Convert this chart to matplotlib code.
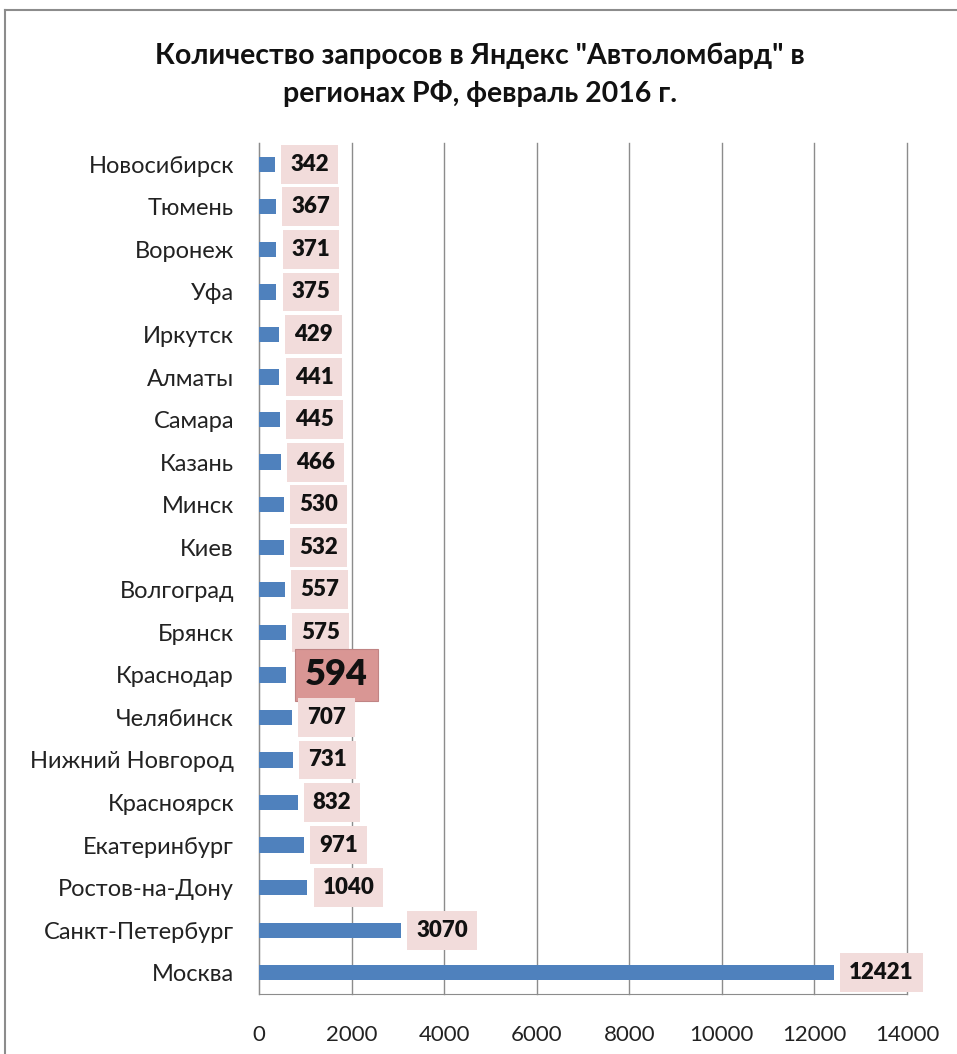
import matplotlib
matplotlib.use("Agg")
import matplotlib.pyplot as plt
from matplotlib.lines import Line2D

cities = ["Новосибирск", "Тюмень", "Воронеж", "Уфа", "Иркутск", "Алматы", "Самара",
          "Казань", "Минск", "Киев", "Волгоград", "Брянск", "Краснодар", "Челябинск",
          "Нижний Новгород", "Красноярск", "Екатеринбург", "Ростов-на-Дону",
          "Санкт-Петербург", "Москва"]
values = [342, 367, 371, 375, 429, 441, 445, 466, 530, 532, 557, 575, 594, 707,
          731, 832, 971, 1040, 3070, 12421]
highlight = "Краснодар"
xticks = [0, 2000, 4000, 6000, 8000, 10000, 12000, 14000]
title = 'Количество запросов в Яндекс "Автоломбард" в\nрегионах РФ, февраль 2016 г.'

plt.rcParams['font.family'] = ['Lato', 'DejaVu Sans']

fig = plt.figure(figsize=(9.57, 10.54), dpi=100)
ax = fig.add_axes([259/957, 1 - 994/1054, (907-259)/957, (994-143)/1054])

ypos = list(range(len(cities)))
ax.barh(ypos, values, height=0.36, color="#4f81bd", zorder=3)
ax.set_ylim(len(cities) - 0.5, -0.5)
ax.set_xlim(0, 14000)
ax.set_xticks(xticks)
ax.set_xticklabels([str(t) for t in xticks], fontsize=16, color="#222222")
ax.set_yticks(ypos)
ax.set_yticklabels(cities, fontsize=17, color="#222222")
ax.tick_params(axis='y', length=0, pad=18)
ax.tick_params(axis='x', length=0, pad=22)
ax.grid(axis='x', color="#8c8c8c", linewidth=1, zorder=0)
for gl in ax.get_xgridlines():
    gl.set_clip_on(False)
for s in ["top", "right"]:
    ax.spines[s].set_visible(False)
for s in ["left", "bottom"]:
    ax.spines[s].set_color("#8c8c8c")

for y, (c, v) in enumerate(zip(cities, values)):
    if c == highlight:
        ax.annotate(str(v), (v, y), xytext=(13.5, 0), textcoords="offset points",
                    ha="left", va="center", fontsize=26, fontweight="heavy",
                    color="#111111", zorder=5,
                    bbox=dict(boxstyle="square,pad=0.27", fc="#d99694", ec="#c08484", lw=0.8))
    else:
        ax.annotate(str(v), (v, y), xytext=(11, 0), textcoords="offset points",
                    ha="left", va="center", fontsize=16, fontweight="heavy",
                    color="#111111", zorder=5,
                    bbox=dict(boxstyle="square,pad=0.4", fc="#f2dcdb", ec="none"))

fig.text(480/957, 1 - 75/1054, title, ha="center", va="center", fontsize=20.5,
         fontweight="bold", linespacing=1.5, color="#111111")

fig.add_artist(Line2D([5/957, 1], [1 - 10/1054, 1 - 10/1054], transform=fig.transFigure,
                      color="#8c8c8c", lw=1.5))
fig.add_artist(Line2D([5/957, 5/957], [0, 1 - 10/1054], transform=fig.transFigure,
                      color="#8c8c8c", lw=1.5))

fig.savefig("out.png", dpi=100, facecolor="white")
